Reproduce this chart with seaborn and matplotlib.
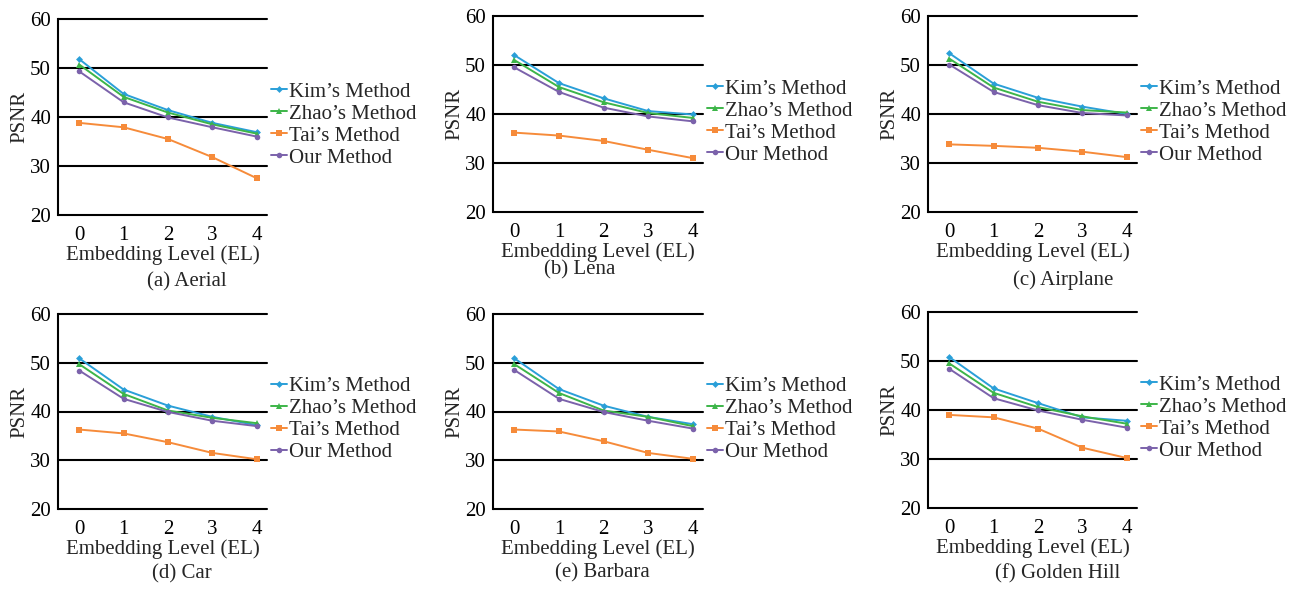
import numpy as np
import pandas as pd
import matplotlib
matplotlib.use("Agg")
import matplotlib.pyplot as plt
import seaborn as sns

# ==========================================================
# DATA (PSNR)
# ==========================================================

levels = [0, 1, 2, 3, 4]
methods = ["Kim\u2019s Method", "Zhao\u2019s Method", "Tai\u2019s Method", "Our Method"]

aerial_kim = [51.8, 44.7, 41.4, 38.8, 36.9]
aerial_zhao = [50.7, 44.1, 40.9, 38.5, 36.6]
aerial_tai = [38.8, 37.9, 35.5, 31.8, 27.5]
aerial_our = [49.3, 43.0, 39.9, 37.9, 36.0]

lena_kim = [52.0, 46.3, 43.2, 40.6, 39.9]
lena_zhao = [51.0, 45.5, 42.4, 40.2, 39.2]
lena_tai = [36.2, 35.6, 34.5, 32.7, 31.0]
lena_our = [49.5, 44.5, 41.3, 39.5, 38.5]

airplane_kim = [52.4, 46.2, 43.3, 41.5, 40.0]
airplane_zhao = [51.3, 45.4, 42.5, 40.8, 40.3]
airplane_tai = [33.8, 33.5, 33.1, 32.3, 31.2]
airplane_our = [50.1, 44.5, 41.8, 40.2, 39.7]

car_kim = [50.9, 44.5, 41.2, 38.9, 37.2]
car_zhao = [49.7, 43.6, 40.2, 38.7, 37.6]
car_tai = [36.3, 35.5, 33.7, 31.5, 30.2]
car_our = [48.4, 42.6, 39.9, 38.1, 37.0]

barbara_kim = [50.9, 44.6, 41.2, 38.9, 37.4]
barbara_zhao = [49.7, 43.8, 40.2, 38.9, 37.0]
barbara_tai = [36.3, 35.9, 33.9, 31.5, 30.3]
barbara_our = [48.5, 42.6, 39.9, 38.1, 36.5]

golden_kim = [50.8, 44.4, 41.4, 38.5, 37.8]
golden_zhao = [49.5, 43.5, 40.6, 38.7, 37.2]
golden_tai = [39.0, 38.5, 36.2, 32.3, 30.2]
golden_our = [48.4, 42.4, 39.9, 38.0, 36.4]

captions = ["(a) Aerial", "(b) Lena", "(c) Airplane",
            "(d) Car", "(e) Barbara", "(f) Golden Hill"]
yticks = [20, 30, 40, 50, 60]

panels = [
    [aerial_kim, aerial_zhao, aerial_tai, aerial_our],
    [lena_kim, lena_zhao, lena_tai, lena_our],
    [airplane_kim, airplane_zhao, airplane_tai, airplane_our],
    [car_kim, car_zhao, car_tai, car_our],
    [barbara_kim, barbara_zhao, barbara_tai, barbara_our],
    [golden_kim, golden_zhao, golden_tai, golden_our],
]

# ==========================================================
# STYLE
# ==========================================================

sns.set_style("white")
plt.rcParams["font.family"] = ["Liberation Serif", "DejaVu Serif"]
plt.rcParams["font.size"] = 15

colors = ["#2a9fd8", "#3db549", "#f68b3a", "#7b62ab"]
markers = ["D", "^", "s", "o"]
msizes = [3.5, 4.5, 4, 4]

W, H = 1298, 592
fig = plt.figure(figsize=(W / 100, H / 100), dpi=100)

# axes boxes in pixels: left, right, top, bottom
boxes = [
    (58, 267, 19, 215),
    (493, 703, 16, 212),
    (928, 1137, 16, 212),
    (58, 267, 314, 509),
    (493, 703, 314, 509),
    (928, 1137, 312, 508),
]
caption_pos = [(187, 282), (580, 270), (1063, 280),
               (182, 574), (602, 573), (1058, 574)]

for i, (l, r, t, b) in enumerate(boxes):
    ax = fig.add_axes([l / W, 1 - b / H, (r - l) / W, (b - t) / H])
    for j, name in enumerate(methods):
        sns.lineplot(x=levels, y=panels[i][j], ax=ax, color=colors[j],
                     marker=markers[j], markersize=msizes[j],
                     markeredgewidth=0, linewidth=1.4, label=name)

    ax.set_xlim(-0.48, 4.23)
    ax.set_ylim(20, 60)
    ax.set_yticks(yticks)
    ax.set_xticks(levels)
    for y in yticks:
        ax.axhline(y, color="black", linewidth=1.5, zorder=0, clip_on=False)
    for s in ["top", "right", "bottom"]:
        ax.spines[s].set_visible(False)
    ax.spines["left"].set_color("black")
    ax.spines["left"].set_linewidth(1.5)
    ax.tick_params(axis="both", length=0, labelsize=15, colors="black")
    ax.tick_params(axis="y", pad=5)
    ax.tick_params(axis="x", pad=8)
    ax.set_xlabel("Embedding Level (EL)", fontsize=15, labelpad=0)
    ax.set_ylabel("PSNR", fontsize=15, labelpad=0.5)

    ax.legend(loc="center left", bbox_to_anchor=(1.02, 0.46), frameon=False,
              fontsize=15, handlelength=0.75, handletextpad=0.1,
              labelspacing=0.12, borderaxespad=0, borderpad=0)

    cx, cy = caption_pos[i]
    fig.text(cx / W, 1 - cy / H, captions[i], ha="center", va="center",
             fontsize=15)

plt.savefig("out.png", dpi=100)
